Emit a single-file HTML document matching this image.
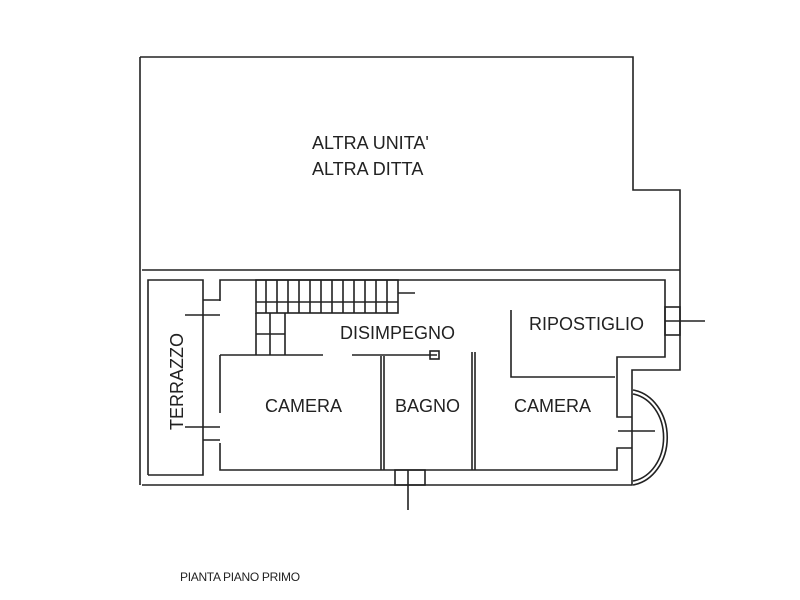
<!DOCTYPE html>
<html><head><style>body{margin:0;background:#fff}svg{display:block}text{font-family:"Liberation Sans",sans-serif;fill:#222}</style></head>
<body>
<svg width="800" height="600" viewBox="0 0 800 600" xmlns="http://www.w3.org/2000/svg">
<g stroke="#222" stroke-width="1.6" fill="none">
<polyline points="140,57 633,57 633,190 680,190 680,270"/>
<line x1="140" y1="57" x2="140" y2="485"/>
<line x1="142" y1="270" x2="680" y2="270"/>
<polyline points="680,270 680,370 632,370 632,485 142,485"/>
<polyline points="148,475 148,280 203,280 203,475 148,475"/>
<line x1="203" y1="300" x2="220" y2="300"/>
<line x1="203" y1="440" x2="220" y2="440"/>
<polyline points="220,413 220,355"/>
<polyline points="220,301 220,280 665,280 665,357 617,357 617,417 632,417"/>
<polyline points="632,448 617,448 617,470 220,470 220,443"/>
<line x1="220" y1="355" x2="323" y2="355"/>
<line x1="352" y1="355" x2="437" y2="355"/>
<rect x="430" y="351" width="9" height="8"/>
<line x1="381" y1="356" x2="381" y2="470"/>
<line x1="384" y1="356" x2="384" y2="470"/>
<line x1="472" y1="352" x2="472" y2="470"/>
<line x1="475" y1="352" x2="475" y2="470"/>
<polyline points="511,310 511,377 615,377"/>
<rect x="256" y="280" width="142" height="33"/>
<line x1="256" y1="302" x2="398" y2="302"/>
<line x1="256" y1="313" x2="256" y2="355"/>
<line x1="270" y1="313" x2="270" y2="355"/>
<line x1="285" y1="313" x2="285" y2="355"/>
<line x1="256" y1="334" x2="285" y2="334"/>
<line x1="266" y1="280" x2="266" y2="313"/><line x1="277" y1="280" x2="277" y2="313"/>
<line x1="288" y1="280" x2="288" y2="313"/><line x1="299" y1="280" x2="299" y2="313"/>
<line x1="310" y1="280" x2="310" y2="313"/><line x1="321" y1="280" x2="321" y2="313"/>
<line x1="332" y1="280" x2="332" y2="313"/><line x1="343" y1="280" x2="343" y2="313"/>
<line x1="354" y1="280" x2="354" y2="313"/><line x1="365" y1="280" x2="365" y2="313"/>
<line x1="376" y1="280" x2="376" y2="313"/><line x1="387" y1="280" x2="387" y2="313"/>
<line x1="398" y1="293" x2="415" y2="293"/>
<line x1="185" y1="315" x2="220" y2="315"/>
<line x1="185" y1="427" x2="220" y2="427"/>
<rect x="665" y="307" width="15" height="28"/>
<line x1="665" y1="321" x2="705" y2="321"/>
<rect x="395" y="470" width="30" height="15"/>
<line x1="408" y1="470" x2="408" y2="510"/>
<path d="M633,390 A40,48 0 0 1 633,485"/>
<path d="M633,394 A36,44 0 0 1 633,481"/>
<line x1="618" y1="431" x2="655" y2="431"/>
</g>
<text x="312" y="149" font-size="18">ALTRA UNITA'</text>
<text x="312" y="175" font-size="18">ALTRA DITTA</text>
<text x="340" y="339" font-size="18">DISIMPEGNO</text>
<text x="529" y="330" font-size="18">RIPOSTIGLIO</text>
<text x="265" y="412" font-size="18">CAMERA</text>
<text x="395" y="412" font-size="18">BAGNO</text>
<text x="514" y="412" font-size="18">CAMERA</text>
<text transform="translate(183,430) rotate(-90)" font-size="18">TERRAZZO</text>
<text x="180" y="581" font-size="12" letter-spacing="-0.3">PIANTA PIANO PRIMO</text>
</svg>
</body></html>
